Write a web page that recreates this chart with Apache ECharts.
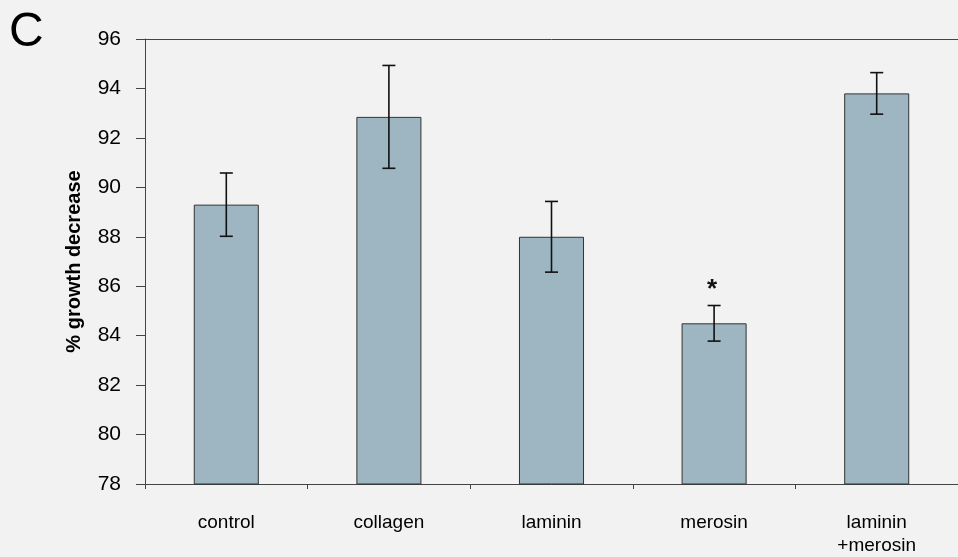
<!DOCTYPE html>
<html>
<head>
<meta charset="utf-8">
<script src="https://cdn.jsdelivr.net/npm/echarts@6/dist/echarts.min.js"></script>
<style>
html,body{margin:0;padding:0;background:#f2f2f2;}
#chart{width:958px;height:557px;}
</style>
</head>
<body>
<div id="chart"></div>
<script>
const categories = ['control', 'collagen', 'laminin', 'merosin', 'laminin\n+merosin'];
const means = [89.3, 92.85, 88.0, 84.5, 93.8];
const errors = [1.28, 2.08, 1.43, 0.72, 0.84];
const marks = ['', '', '', '*', ''];
const yTicks = { min: 78, max: 96, step: 2 };
const panelLabel = 'C';
const yTitle = '% growth decrease';

const errData = categories.map((c, i) => [i, means[i] - errors[i], means[i] + errors[i], marks[i]]);
const FONT = '"Liberation Sans", Arial, sans-serif';

const chart = echarts.init(document.getElementById('chart'));
chart.setOption({
  backgroundColor: '#f2f2f2',
  animation: false,
  grid: { left: 145, top: 39, bottom: 73, right: -3 },
  graphic: [{
    type: 'text', left: 9, top: 9,
    style: { text: panelLabel, font: '48px ' + FONT, fill: '#000' }
  }],
  xAxis: [{
    type: 'category', data: categories,
    axisLine: { lineStyle: { color: '#444', width: 1 } },
    axisTick: { show: true, length: 5, lineStyle: { color: '#444' } },
    axisLabel: { color: '#000', fontSize: 19, fontFamily: FONT, margin: 27, lineHeight: 23 }
  }, {
    type: 'category', data: categories, position: 'top',
    axisLine: { show: true, lineStyle: { color: '#444', width: 1 } },
    axisTick: { show: false }, axisLabel: { show: false }
  }],
  yAxis: {
    type: 'value', min: yTicks.min, max: yTicks.max, interval: yTicks.step,
    name: yTitle, nameLocation: 'middle', nameGap: 61,
    nameTextStyle: { color: '#000', fontSize: 20, fontWeight: 'bold', fontFamily: FONT },
    axisLine: { show: true, lineStyle: { color: '#444', width: 1 } },
    axisTick: { show: true, length: 9, lineStyle: { color: '#444' } },
    axisLabel: { color: '#000', fontSize: 21, fontFamily: FONT, margin: 24 },
    splitLine: { show: false }
  },
  series: [{
    type: 'bar', data: means, barWidth: '40%',
    itemStyle: { color: '#9db6c1', borderColor: '#333', borderWidth: 1 }
  }, {
    type: 'custom', data: errData, z: 10,
    renderItem: function (params, api) {
      const x = api.value(0);
      const lo = api.coord([x, api.value(1)]);
      const hi = api.coord([x, api.value(2)]);
      const hw = 6.5;
      const st = { stroke: '#111', lineWidth: 1.6 };
      const children = [
        { type: 'line', shape: { x1: hi[0], y1: hi[1], x2: lo[0], y2: lo[1] }, style: st },
        { type: 'line', shape: { x1: hi[0] - hw, y1: hi[1], x2: hi[0] + hw, y2: hi[1] }, style: st },
        { type: 'line', shape: { x1: lo[0] - hw, y1: lo[1], x2: lo[0] + hw, y2: lo[1] }, style: st }
      ];
      const m = marks[params.dataIndex];
      if (m) {
        children.push({ type: 'text', style: { text: m, x: hi[0] - 2, y: hi[1] - 16, align: 'center', verticalAlign: 'middle', font: 'bold 26px ' + FONT, fill: '#111' } });
      }
      return { type: 'group', children: children };
    }
  }]
});
</script>
</body>
</html>
